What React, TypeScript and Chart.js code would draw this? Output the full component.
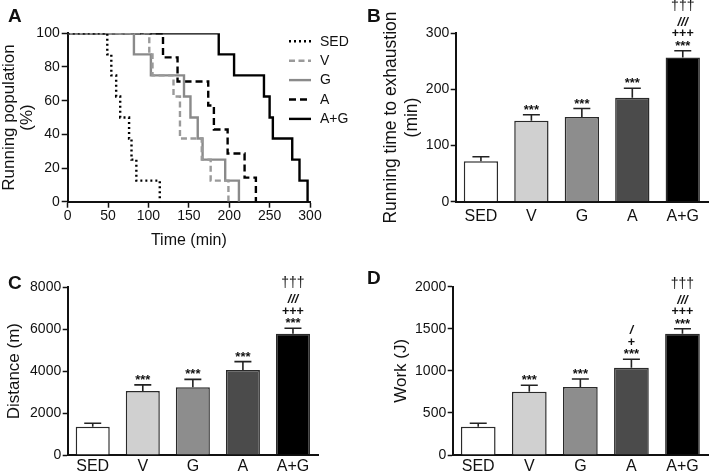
import React, { useEffect, useRef } from "react";
import { Chart, registerables } from "chart.js";
Chart.register(...registerables);

const FONT = "'Liberation Sans', Arial, Helvetica, sans-serif";
const INK = "#111111";
Chart.defaults.font.family = FONT;
Chart.defaults.color = INK;

// ---------------- data ----------------
const groups = ["SED", "V", "G", "A", "A+G"];

// Panel A – running population over time (time in min, % still running)
const sedTimes = [0, 49, 54, 60, 65, 76, 79, 85, 114];
const sedPct = [100, 87.5, 75, 62.5, 50, 37.5, 25, 12.5, 0];
const vTimes = [0, 101, 105, 131, 139, 166, 177, 199];
const vPct = [100, 87.5, 75, 62.5, 37.5, 25, 12.5, 0];
const gTimes = [0, 82, 103, 144, 152, 161, 167, 195, 212];
const gPct = [100, 87.5, 75, 62.5, 50, 37.5, 25, 12.5, 0];
const aTimes = [0, 118, 136, 174, 181, 198, 219, 233];
const aPct = [100, 85.7, 71.4, 57.1, 42.9, 28.6, 14.3, 0];
const agTimes = [0, 187, 206, 243, 250, 254, 278, 287, 297];
const agPct = [100, 87.5, 75, 62.5, 50, 37.5, 25, 12.5, 0];

const timeMax = 300;
const timeStep = 50;
const pctMax = 100;
const pctStep = 20;
const survivalTitle = ["Running population", "(%)"];

// Panel B – running time to exhaustion (min)
const runTime = [72, 144, 151, 185, 257];
const runTimeErr = [8, 11, 15, 17, 12];
const runTimeMax = 300;
const runTimeStep = 100;
const runTimeMarks = [[], ["***"], ["***"], ["***"], ["***", "+++", "///", "†††"]];

// Panel C – distance (m)
const distance = [1352, 3054, 3229, 4056, 5789];
const distanceErr = [160, 290, 380, 400, 255];
const distanceMax = 8000;
const distanceStep = 2000;
const distanceMarks = [[], ["***"], ["***"], ["***"], ["***", "+++", "///", "†††"]];

// Panel D – work (J)
const work = [337, 752, 808, 1038, 1442];
const workErr = [40, 76, 95, 99, 59];
const workMax = 2000;
const workStep = 500;
const workMarks = [[], ["***"], ["***"], ["***", "+", "/"], ["***", "+++", "///", "†††"]];

// ---------------- styles ----------------
const barColors = ["#ffffff", "#d0d0d0", "#8d8d8d", "#4b4b4b", "#000000"];
const lineStyles: Record<string, { color: string; dash: number[] }> = {
  SED: { color: "#000000", dash: [2, 3] },
  V: { color: "#9a9a9a", dash: [6, 3.5] },
  G: { color: "#8a8a8a", dash: [] },
  A: { color: "#000000", dash: [7, 4] },
  "A+G": { color: "#000000", dash: [] },
};

function markStyle(s: string) {
  if (s.startsWith("*")) return { font: `bold 13px ${FONT}`, rise: 1 };
  if (s.startsWith("+")) return { font: `bold 12.5px ${FONT}`, rise: 13.5 };
  if (s.startsWith("/")) return { font: `italic bold 12.5px ${FONT}`, rise: 25 };
  return { font: `14px ${FONT}`, rise: 41 };
}

const plainTick = (v: any) => String(v);

// ---------------- panel A ----------------
function SurvivalPanel() {
  const ref = useRef<HTMLCanvasElement | null>(null);
  useEffect(() => {
    const series = [
      { label: "SED", t: sedTimes, p: sedPct },
      { label: "V", t: vTimes, p: vPct },
      { label: "G", t: gTimes, p: gPct },
      { label: "A", t: aTimes, p: aPct },
      { label: "A+G", t: agTimes, p: agPct },
    ];
    const legendPlugin = {
      id: "manualLegend",
      afterDraw(chart: any) {
        const ctx = chart.ctx;
        const area = chart.chartArea;
        ctx.save();
        series.forEach((s, i) => {
          const st = lineStyles[s.label];
          const y = area.top + 8 + i * 19.4;
          ctx.beginPath();
          ctx.setLineDash(st.dash);
          ctx.strokeStyle = st.color;
          ctx.lineWidth = 2.4;
          ctx.moveTo(area.right - 21, y);
          ctx.lineTo(area.right + 1, y);
          ctx.stroke();
          ctx.setLineDash([]);
          ctx.fillStyle = INK;
          ctx.font = `14px ${FONT}`;
          ctx.textAlign = "left";
          ctx.textBaseline = "middle";
          ctx.fillText(s.label, area.right + 10, y + 0.5);
        });
        ctx.restore();
      },
    };
    const chart = new Chart(ref.current as HTMLCanvasElement, {
      type: "line",
      data: {
        datasets: series.map((s) => ({
          label: s.label,
          data: s.t.map((x, i) => ({ x, y: s.p[i] })),
          stepped: "before" as const,
          borderColor: lineStyles[s.label].color,
          borderDash: lineStyles[s.label].dash,
          borderWidth: 2.4,
          pointRadius: 0,
          fill: false,
        })),
      },
      options: {
        responsive: false,
        animation: false,
        events: [],
        layout: { padding: { top: 33.3, right: 44, bottom: 0, left: 0 } },
        plugins: { legend: { display: false }, tooltip: { enabled: false } },
        scales: {
          x: {
            type: "linear",
            min: 0,
            max: timeMax,
            ticks: { stepSize: timeStep, font: { size: 14 }, padding: 0, color: INK, callback: plainTick },
            grid: { display: true, drawOnChartArea: false, drawTicks: true, tickLength: 6, tickColor: INK, tickWidth: 1.5 },
            border: { display: true, color: INK, width: 2 },
            title: { display: true, text: "Time (min)", font: { size: 16 }, padding: { top: 0, bottom: 0 }, color: INK },
            afterFit: (s: any) => {
              s.height = 48.3;
              s.paddingLeft = 0;
              s.paddingRight = 0;
            },
          },
          y: {
            min: 0,
            max: pctMax,
            ticks: { stepSize: pctStep, font: { size: 14 }, padding: 2, color: INK, callback: plainTick },
            grid: { display: true, drawOnChartArea: false, drawTicks: true, tickLength: 6, tickColor: INK, tickWidth: 1.5 },
            border: { display: true, color: INK, width: 2 },
            title: {
              display: true,
              text: survivalTitle,
              font: { size: 17, lineHeight: "18px" },
              padding: { top: 0, bottom: 0 },
              color: INK,
            },
            afterFit: (s: any) => {
              s.width = 67.7;
              s.paddingTop = 0;
              s.paddingBottom = 0;
            },
          },
        },
      } as any,
      plugins: [legendPlugin],
    });
    return () => chart.destroy();
  }, []);
  return <canvas ref={ref} width={354} height={250} style={{ position: "absolute", left: 0, top: 0 }} />;
}

// ---------------- bar panels ----------------
type BarProps = {
  values: number[];
  errors: number[];
  marks: string[][];
  yMax: number;
  yStep: number;
  title: string | string[];
  left: number;
  top: number;
  w: number;
  h: number;
  padTop: number;
  padRight: number;
  yAxisW: number;
  xAxisH: number;
  titlePad: number;
  titleSize: number;
  titleLH: number;
  xLabelPad: number;
};

function BarPanel(props: BarProps) {
  const ref = useRef<HTMLCanvasElement | null>(null);
  useEffect(() => {
    const { values, errors, marks } = props;
    const errPlugin = {
      id: "errorsAndMarks",
      afterDatasetsDraw(chart: any) {
        const ctx = chart.ctx;
        const yScale = chart.scales.y;
        const meta = chart.getDatasetMeta(0);
        ctx.save();
        meta.data.forEach((bar: any, i: number) => {
          const yTop = yScale.getPixelForValue(values[i] + errors[i]);
          ctx.beginPath();
          ctx.strokeStyle = "#222";
          ctx.lineWidth = 1.6;
          ctx.moveTo(bar.x, bar.y);
          ctx.lineTo(bar.x, yTop);
          ctx.moveTo(bar.x - 8.5, yTop);
          ctx.lineTo(bar.x + 8.5, yTop);
          ctx.stroke();
          ctx.fillStyle = INK;
          ctx.textAlign = "center";
          ctx.textBaseline = "alphabetic";
          (marks[i] || []).forEach((m) => {
            const st = markStyle(m);
            ctx.font = st.font;
            ctx.fillText(m, bar.x, yTop - st.rise);
          });
        });
        ctx.restore();
      },
    };
    const chart = new Chart(ref.current as HTMLCanvasElement, {
      type: "bar",
      data: {
        labels: groups,
        datasets: [
          {
            data: values,
            backgroundColor: barColors,
            borderColor: "#2a2a2a",
            borderWidth: 1.5,
            barPercentage: 0.68,
            categoryPercentage: 1,
          },
        ],
      },
      options: {
        responsive: false,
        animation: false,
        events: [],
        layout: { padding: { top: props.padTop, right: props.padRight, bottom: 0, left: 0 } },
        plugins: { legend: { display: false }, tooltip: { enabled: false } },
        scales: {
          x: {
            ticks: { font: { size: 16 }, padding: props.xLabelPad, color: INK },
            grid: { display: false, drawTicks: false },
            border: { display: true, color: INK, width: 2 },
            afterFit: (s: any) => {
              s.height = props.xAxisH;
              s.paddingLeft = 0;
              s.paddingRight = 0;
            },
          },
          y: {
            min: 0,
            max: props.yMax,
            ticks: { stepSize: props.yStep, font: { size: 14 }, padding: 1.5, color: INK, callback: plainTick },
            grid: { display: true, drawOnChartArea: false, drawTicks: true, tickLength: 5, tickColor: INK, tickWidth: 1.5 },
            border: { display: true, color: INK, width: 2 },
            title: {
              display: true,
              text: props.title,
              font: { size: props.titleSize, lineHeight: props.titleLH + "px" },
              padding: { top: props.titlePad, bottom: 0 },
              color: INK,
            },
            afterFit: (s: any) => {
              s.width = props.yAxisW;
              s.paddingTop = 0;
              s.paddingBottom = 0;
            },
          },
        },
      } as any,
      plugins: [errPlugin],
    });
    return () => chart.destroy();
  }, []);
  return (
    <canvas
      ref={ref}
      width={props.w}
      height={props.h}
      style={{ position: "absolute", left: props.left, top: props.top }}
    />
  );
}

const letterStyle = (left: number, top: number): React.CSSProperties => ({
  position: "absolute",
  left,
  top,
  fontFamily: FONT,
  fontWeight: "bold",
  fontSize: 19,
  lineHeight: "19px",
  color: INK,
});

export default function App() {
  return (
    <div
      style={{
        position: "absolute",
        left: 0,
        top: 0,
        width: 709,
        height: 473,
        background: "#ffffff",
        overflow: "hidden",
      }}
    >
      <SurvivalPanel />
      <BarPanel
        values={runTime}
        errors={runTimeErr}
        marks={runTimeMarks}
        yMax={runTimeMax}
        yStep={runTimeStep}
        title={["Running time to exhaustion", "(min)"]}
        left={355}
        top={0}
        w={354}
        h={236}
        padTop={33.3}
        padRight={1}
        yAxisW={100.7}
        xAxisH={34.3}
        titlePad={26}
        titleSize={17.5}
        titleLH={21}
        xLabelPad={5.5}
      />
      <BarPanel
        values={distance}
        errors={distanceErr}
        marks={distanceMarks}
        yMax={distanceMax}
        yStep={distanceStep}
        title="Distance (m)"
        left={0}
        top={250}
        w={354}
        h={223}
        padTop={37.3}
        padRight={36}
        yAxisW={67.7}
        xAxisH={18}
        titlePad={4}
        titleSize={17}
        titleLH={20}
        xLabelPad={2.4}
      />
      <BarPanel
        values={work}
        errors={workErr}
        marks={workMarks}
        yMax={workMax}
        yStep={workStep}
        title="Work (J)"
        left={355}
        top={250}
        w={354}
        h={223}
        padTop={36.7}
        padRight={1}
        yAxisW={97.7}
        xAxisH={18}
        titlePad={36.5}
        titleSize={17}
        titleLH={20}
        xLabelPad={2.4}
      />
      <div style={letterStyle(8, 5.5)}>A</div>
      <div style={letterStyle(367, 5.5)}>B</div>
      <div style={letterStyle(8, 272.5)}>C</div>
      <div style={letterStyle(367, 267.5)}>D</div>
    </div>
  );
}
